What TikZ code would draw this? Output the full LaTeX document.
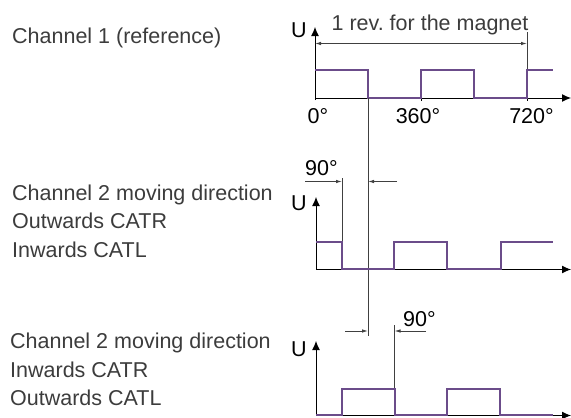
\documentclass[tikz,border=0pt]{standalone}
\usepackage{fontspec}
\setmainfont{Liberation Sans}
\usetikzlibrary{arrows.meta}
\definecolor{sig}{HTML}{6B4C8A}
\definecolor{txt}{HTML}{3C3C3C}
\definecolor{ln}{HTML}{404040}
\frenchspacing
\begin{document}
\begin{tikzpicture}[x=1pt,y=-1pt,
  lbl/.style={anchor=base west,inner sep=0pt,text=txt,font=\fontsize{21.5}{24}\selectfont},
  axlbl/.style={anchor=base,inner sep=0pt,text=black,font=\fontsize{21.5}{24}\selectfont},
  axis/.style={line width=1pt,-{Latex[length=9pt,width=8pt]}},
  wave/.style={sig,line width=2pt,line join=miter},
  guide/.style={ln,line width=1pt},
  dim/.style={ln,line width=0.9pt,-{Latex[length=6pt,width=3.5pt]}},
  dimb/.style={ln,line width=0.9pt,{Latex[length=6pt,width=3.5pt]}-{Latex[length=6pt,width=3.5pt]}}]
\useasboundingbox (0,0) rectangle (571,418);

% left labels
\node[lbl] (c1) at (12,43) {Channel 1 (reference)};
\node[lbl] (c2a) at (12,200) {Channel 2 moving direction};
\node[lbl] (c2b) at (12,228.5) {Outwards CATR};
\node[lbl] (c2c) at (12,257) {Inwards CATL};
\node[lbl] (c3a) at (10,348.5) {Channel 2 moving direction};
\node[lbl] (c3b) at (10,377) {Inwards CATR};
\node[lbl] (c3c) at (10,405.5) {Outwards CATL};

% ---------- top chart ----------
\coordinate (o1) at (315,98);
\coordinate (y1) at (315,27);
\coordinate (x1) at (571,98);
\draw[axis] (315,100) -- (y1);
\draw[axis] (o1) -- (x1);
\draw[line width=1pt] (421,98) -- (421,101) (527,98) -- (527,101);
\node[axlbl] (u1) at (299,37) {U};
\node[axlbl] (d0) at (318,123) {0°};
\node[axlbl] (d360) at (418,123) {360°};
\node[axlbl] (d720) at (531.5,123) {720°};
\node[anchor=base,inner sep=0pt,text=txt,font=\fontsize{21.5}{24}\selectfont] (rev) at (430,30.5) {1 rev. for the magnet};
\coordinate (r1) at (527,32);
\coordinate (r2) at (527,70);
\draw[guide] (r1) -- (r2);
\coordinate (da) at (315,43.5);
\coordinate (db) at (527,43.5);
\draw[dimb] (da) -- (db);
\draw[wave] (315,70) -- (368,70) -- (368,97.5) -- (421,97.5) -- (421,70) -- (474,70) -- (474,97.5) -- (527,97.5) -- (527,70) -- (553,70);

% long vertical reference line
\coordinate (v1) at (368,98);
\coordinate (v2) at (368,336);
\draw[guide] (v1) -- (v2);

% ---------- middle chart ----------
\coordinate (o2) at (316,269.5);
\coordinate (y2) at (316,197);
\coordinate (x2) at (571,269.5);
\draw[axis] (o2) -- (y2);
\draw[axis] (o2) -- (x2);
\node[axlbl] (u2) at (299,210) {U};
\node[anchor=base west,inner sep=0pt,text=black,font=\fontsize{21.5}{24}\selectfont] (n90a) at (305,175) {90°};
\coordinate (m1) at (342,178);
\coordinate (m2) at (342,242);
\draw[guide] (m1) -- (m2);
\coordinate (ma) at (305,181.5);
\coordinate (mb) at (342,181.5);
\coordinate (mc) at (397,181.5);
\coordinate (md) at (368,181.5);
\draw[dim] (ma) -- (mb);
\draw[dim] (mc) -- (md);
\draw[wave] (316,241.5) -- (342,241.5) -- (342,269) -- (394,269) -- (394,241.5) -- (447,241.5) -- (447,269) -- (501,269) -- (501,241.5) -- (553,241.5);

% ---------- bottom chart ----------
\coordinate (o3) at (316,415.5);
\coordinate (y3) at (316,341);
\coordinate (x3) at (571,415.5);
\draw[axis] (o3) -- (y3);
\draw[axis] (o3) -- (x3);
\node[axlbl] (u3) at (299,356.5) {U};
\node[anchor=base west,inner sep=0pt,text=black,font=\fontsize{21.5}{24}\selectfont] (n90b) at (403,326.5) {90°};
\coordinate (b1) at (394.5,325);
\coordinate (b2) at (394.5,388);
\draw[guide] (b1) -- (b2);
\coordinate (ba) at (345,331);
\coordinate (bb) at (368,331);
\coordinate (bc) at (426,331);
\coordinate (bd) at (394.5,331);
\draw[dim] (ba) -- (bb);
\draw[dim] (bc) -- (bd);
\draw[wave] (316,415) -- (342,415) -- (342,388.5) -- (394.5,388.5) -- (394.5,415) -- (447,415) -- (447,388.5) -- (500,388.5) -- (500,415) -- (553,415);
\end{tikzpicture}
\end{document}
